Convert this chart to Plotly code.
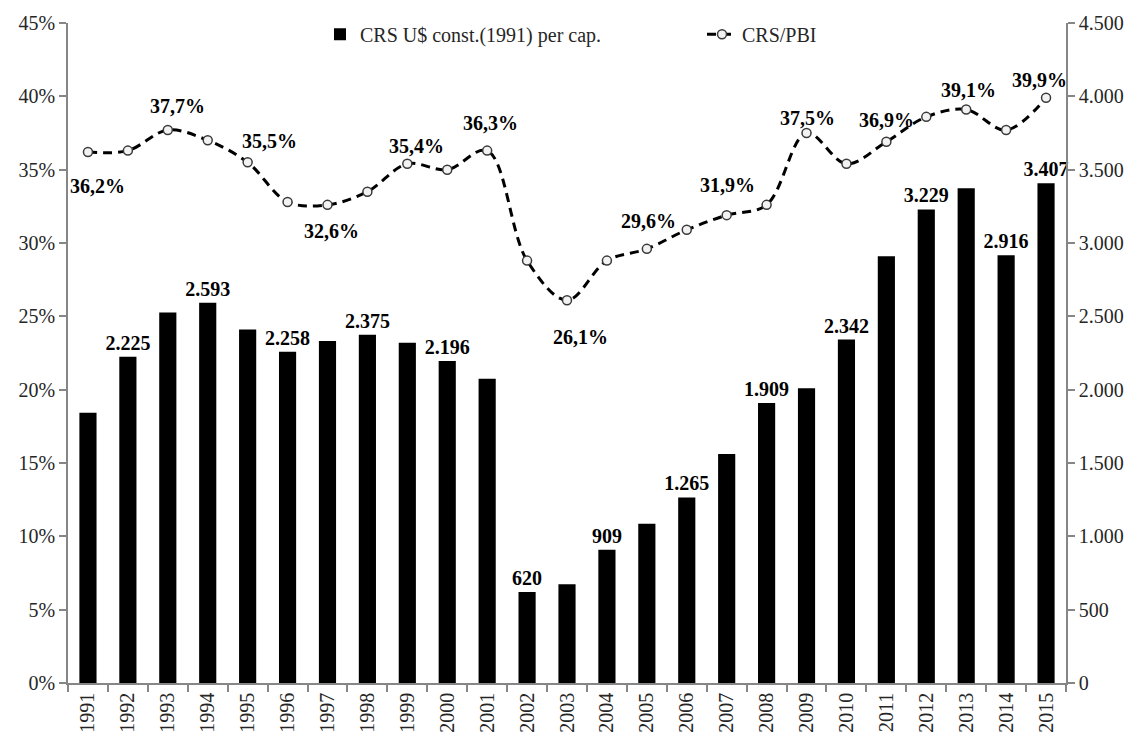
import plotly.graph_objects as go

years = [str(y) for y in range(1991, 2016)]
crs_percap = [1843, 2225, 2526, 2593, 2410, 2258, 2331, 2375, 2320, 2196, 2074,
              620, 674, 909, 1085, 1265, 1561, 1909, 2010, 2342, 2910, 3229, 3373, 2916, 3407]
crs_pbi = [36.2, 36.3, 37.7, 37.0, 35.5, 32.8, 32.6, 33.5, 35.4, 35.0, 36.3,
           28.8, 26.1, 28.8, 29.6, 30.9, 31.9, 32.6, 37.5, 35.4, 36.9, 38.6, 39.1, 37.7, 39.9]

bar_label_years = ["1992", "1994", "1996", "1998", "2000", "2002", "2004", "2006",
                   "2008", "2010", "2012", "2014", "2015"]
# (year, x shift px, y shift px) for line labels
line_label_pos = [("1991", 10, -34), ("1993", 10, 24), ("1995", 22, 21), ("1997", 4, -26),
                  ("1999", 9, 18), ("2001", 3, 28), ("2003", 13, -37), ("2005", 2, 28),
                  ("2007", 1, 30), ("2009", 1, 15), ("2011", 0, 22), ("2013", 2, 20),
                  ("2015", -7, 18)]

FONT = "Liberation Serif, DejaVu Serif, serif"
AXIS_COLOR = "#868686"
TXT = "#262626"

def fmt_thousands(v):
    return f"{v:,}".replace(",", ".")

def fmt_pct(v):
    return f"{v:.1f}".replace(".", ",") + "%"

bar_text = [fmt_thousands(v) if y in bar_label_years else "" for y, v in zip(years, crs_percap)]

fig = go.Figure()
fig.add_trace(go.Bar(
    x=years, y=crs_percap, yaxis="y2", name="CRS U$ const.(1991) per cap.",
    marker=dict(color="black", line=dict(width=0)),
    text=bar_text, textposition="outside", cliponaxis=False, constraintext="none",
    textfont=dict(family=FONT, size=20, color="black", weight="bold"),
))
fig.add_trace(go.Scatter(
    x=years, y=crs_pbi, yaxis="y", name="CRS/PBI", mode="lines+markers",
    line=dict(color="black", width=3, dash="9px,6px", shape="spline", smoothing=1.0),
    marker=dict(size=9, color="#f2f2f2", line=dict(color="#3a3a3a", width=1.5)),
    cliponaxis=False,
))

idx = {y: i for i, y in enumerate(years)}
for y, dx, dy in line_label_pos:
    i = idx[y]
    v = crs_pbi[i]
    fig.add_annotation(x=i, y=v, xref="x", yref="y", text=fmt_pct(v), showarrow=False,
                       xshift=dx, yshift=dy,
                       font=dict(family=FONT, size=20, color="black", weight="bold"))

fig.update_layout(
    width=1143, height=745,
    margin=dict(l=68, r=77, t=18, b=59),
    paper_bgcolor="white", plot_bgcolor="white",
    font=dict(family=FONT, size=20, color=TXT),
    separators=",.",
    bargap=0.57,
    showlegend=True,
    legend=dict(orientation="h", x=0.2525, xanchor="left", y=0.983, yanchor="middle",
                font=dict(family=FONT, size=20, color=TXT),
                entrywidth=337, entrywidthmode="pixels", bgcolor="rgba(0,0,0,0)",
                traceorder="normal"),
    xaxis=dict(type="category", range=[-0.5, 24.5], showline=True, linecolor=AXIS_COLOR,
               linewidth=1.5, ticks="outside", tickson="boundaries", ticklen=7,
               tickcolor=AXIS_COLOR, tickwidth=1.5, tickangle=-90, showgrid=False,
               tickfont=dict(family=FONT, size=20, color=TXT)),
    yaxis=dict(range=[0, 45], dtick=5, ticksuffix="%", showline=True, linecolor=AXIS_COLOR,
               linewidth=1.5, ticks="outside", ticklen=7, tickcolor=AXIS_COLOR, tickwidth=1.5,
               showgrid=False, zeroline=False,
               tickfont=dict(family=FONT, size=20, color=TXT)),
    yaxis2=dict(range=[0, 4500], dtick=500, tickformat=",d", overlaying="y", side="right",
                showline=True, linecolor=AXIS_COLOR, linewidth=1.5, ticks="outside",
                ticklen=7, tickcolor=AXIS_COLOR, tickwidth=1.5, showgrid=False,
                zeroline=False, tickfont=dict(family=FONT, size=20, color=TXT)),
)

fig.write_html("out.html")
